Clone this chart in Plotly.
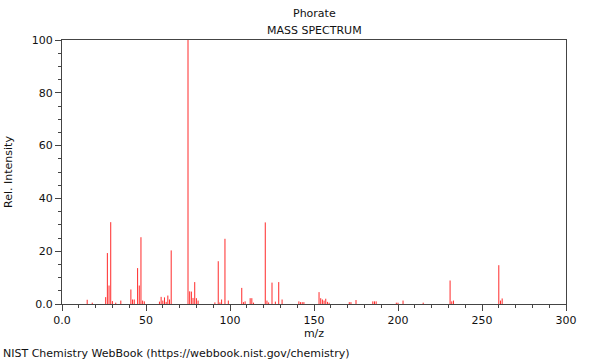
import plotly.graph_objects as go

mz = [15, 18, 26, 27, 28, 29, 30, 32, 35, 41, 42, 43, 45, 46, 47, 48, 49,
      58, 59, 60, 61, 62, 63, 64, 65, 75, 76, 77, 78, 79, 80, 81,
      91, 93, 94, 95, 97, 99, 107, 108, 109, 112, 113, 114,
      121, 122, 123, 125, 127, 129, 131, 141, 142, 143, 144,
      153, 154, 155, 156, 157, 158, 159, 171, 172, 175, 185, 186, 187,
      199, 200, 203, 215, 231, 232, 233, 260, 261, 262]
intensity = [1.6, 0.5, 2.6, 19.3, 7.0, 31.0, 1.1, 0.5, 1.3, 5.5, 1.7, 1.7, 13.6, 7.0, 25.3, 1.3, 1.0,
             0.9, 2.7, 1.3, 2.5, 0.8, 3.2, 1.7, 20.3, 100.0, 4.8, 4.7, 2.3, 8.3, 2.2, 1.3,
             0.6, 16.2, 0.6, 1.7, 24.7, 1.3, 6.1, 0.7, 1.0, 2.2, 2.2, 0.5,
             30.9, 1.3, 0.6, 8.1, 0.9, 8.3, 1.7, 1.0, 0.7, 0.7, 0.7,
             4.5, 2.2, 1.7, 1.3, 2.0, 0.8, 0.5, 0.7, 0.7, 1.5, 1.0, 1.0, 1.0,
             0.5, 0.5, 1.3, 0.5, 8.9, 1.0, 1.3, 14.7, 1.3, 2.1]

y_tickvals = [0, 20, 40, 60, 80, 100]
y_ticktext = ["0.0", "20", "40", "60", "80", "100"]
x_tickvals = [0, 50, 100, 150, 200, 250, 300]
x_ticktext = ["0.0", "50", "100", "150", "200", "250", "300"]

title_main = "Phorate"
title_sub = "MASS SPECTRUM"
footer = "NIST Chemistry WebBook (https://webbook.nist.gov/chemistry)"

font_family = "DejaVu Sans"
axis_color = "#444444"

# stick spectrum: each peak is a vertical segment from 0 to its intensity
stick_x, stick_y = [], []
for m, v in zip(mz, intensity):
    stick_x += [m, m, None]
    stick_y += [0, v, None]

fig = go.Figure()
fig.add_trace(go.Scatter(
    x=stick_x, y=stick_y, mode="lines",
    line=dict(color="#ff2a2a", width=1),
    hoverinfo="skip",
))

fig.update_layout(
    width=600, height=360,
    margin=dict(l=62, r=34, t=40, b=56),
    paper_bgcolor="white", plot_bgcolor="white",
    font=dict(family=font_family, size=11, color="#111111"),
    showlegend=False,
    hovermode=False,
)

fig.update_xaxes(
    range=[0, 300], tickvals=x_tickvals, ticktext=x_ticktext,
    ticks="outside", ticklen=6, tickcolor=axis_color, tickwidth=1,
    showline=True, linecolor=axis_color, linewidth=1, mirror=True,
    showgrid=False, zeroline=False, automargin=False,
    minor=dict(dtick=10, tick0=0, ticks="outside", ticklen=3, tickcolor=axis_color, showgrid=False),
    title=dict(text="m/z", font=dict(size=11), standoff=2),
    tickfont=dict(size=11),
)
fig.update_yaxes(
    range=[0, 100], tickvals=y_tickvals, ticktext=y_ticktext,
    ticks="outside", ticklen=6, tickcolor=axis_color, tickwidth=1,
    showline=True, linecolor=axis_color, linewidth=1, mirror=True,
    showgrid=False, zeroline=False, automargin=False,
    minor=dict(dtick=5, tick0=0, ticks="outside", ticklen=3, tickcolor=axis_color, showgrid=False),
    title=dict(text="Rel. Intensity", font=dict(size=11), standoff=16),
    tickfont=dict(size=11),
)

fig.add_annotation(text=title_main, xref="paper", yref="paper", x=0.5, y=1,
                   yshift=27, xanchor="center", yanchor="middle", showarrow=False,
                   font=dict(size=11))
fig.add_annotation(text=title_sub, xref="paper", yref="paper", x=0.5, y=1,
                   yshift=10, xanchor="center", yanchor="middle", showarrow=False,
                   font=dict(size=11))
fig.add_annotation(text=footer, xref="paper", yref="paper", x=0, y=0,
                   xshift=-61, yshift=-49, xanchor="left", yanchor="middle",
                   showarrow=False, font=dict(size=11))

fig.write_html("out.html", config={"displayModeBar": False, "staticPlot": True},
               post_script="document.body.style.margin='0';")
